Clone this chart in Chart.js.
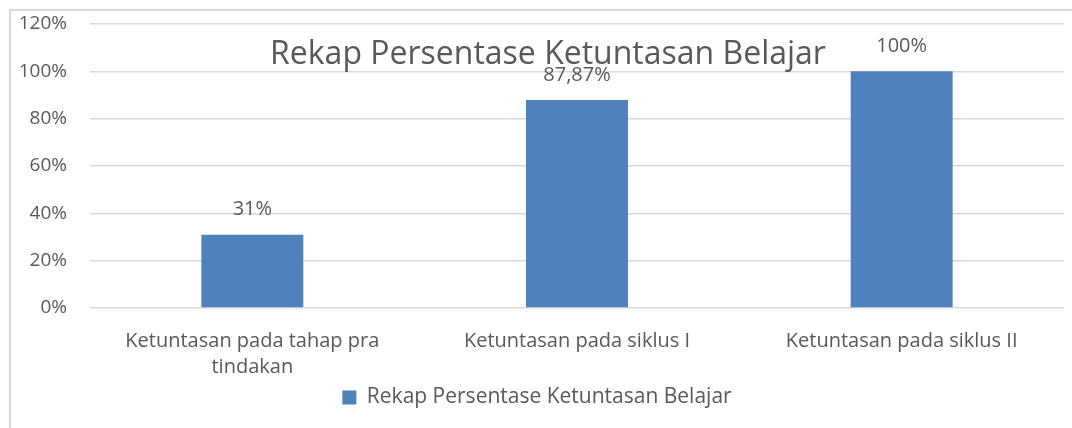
<!DOCTYPE html>
<html>
<head>
<meta charset="utf-8">
<script src="https://cdn.jsdelivr.net/npm/chart.js@4"></script>
<style>
  html, body { margin: 0; padding: 0; background: #fff; overflow: hidden; }
  #frame { position: absolute; left: 9px; top: 9px; width: 1080px; height: 430px; border: 2px solid #d9d9d9; box-sizing: border-box; }
  #wrap { position: absolute; left: 0; top: 0; width: 1072px; height: 428px; }
</style>
</head>
<body>
<div id="frame"></div>
<div id="wrap"><canvas id="chart"></canvas></div>
<script>
const categories = [['Ketuntasan pada tahap pra', 'tindakan'], 'Ketuntasan pada siklus I', 'Ketuntasan pada siklus II'];
const values = [31, 87.87, 100];
const valueLabels = ['31%', '87,87%', '100%'];
const seriesName = 'Rekap Persentase Ketuntasan Belajar';
const chartTitle = 'Rekap Persentase Ketuntasan Belajar';

const fontFamily = '"Open Sans", sans-serif';
const textColor = '#595959';

// rótulos de valor acima das barras + título sobreposto
const overlayPlugin = {
  id: 'overlay',
  afterDatasetsDraw(chart) {
    const ctx = chart.ctx;
    const meta = chart.getDatasetMeta(0);
    ctx.save();
    ctx.fillStyle = textColor;
    ctx.font = '20px ' + fontFamily;
    ctx.textAlign = 'center';
    ctx.textBaseline = 'middle';
    meta.data.forEach(function(bar, i) {
      ctx.fillText(valueLabels[i], bar.x, bar.y - 25);
    });
    const area = chart.chartArea;
    ctx.font = '32px ' + fontFamily;
    ctx.fillText(chartTitle, 548, area.top + 31);
    ctx.restore();
  }
};

const ctx = document.getElementById('chart').getContext('2d');
new Chart(ctx, {
  type: 'bar',
  data: {
    labels: categories,
    datasets: [{
      label: seriesName,
      data: values,
      backgroundColor: '#4F81BD',
      borderWidth: 0,
      barPercentage: 0.314,
      categoryPercentage: 1
    }]
  },
  options: {
    responsive: true,
    maintainAspectRatio: false,
    animation: false,
    layout: { padding: { left: 10, right: 8, top: 24, bottom: 10 } },
    scales: {
      x: {
        afterFit: function(scale) { scale.height = scale.height - 5; },
        grid: { display: false },
        border: { display: false },
        ticks: { color: textColor, font: { family: fontFamily, size: 20, lineHeight: 1.3 }, maxRotation: 0, padding: 12 }
      },
      y: {
        min: 0,
        max: 120,
        afterFit: function(scale) { scale.width = 80; },
        grid: { color: '#d9d9d9', lineWidth: 1.5, drawTicks: true, tickLength: 20, tickColor: 'rgba(0,0,0,0)' },
        border: { display: false },
        ticks: {
          stepSize: 20,
          padding: 3,
          color: textColor,
          font: { family: fontFamily, size: 19 },
          callback: function(v) { return v + '%'; }
        }
      }
    },
    plugins: {
      title: { display: false },
      tooltip: { enabled: false },
      legend: {
        position: 'bottom',
        labels: {
          color: textColor,
          font: { family: fontFamily, size: 21 },
          boxWidth: 14,
          boxHeight: 14,
          padding: 0
        }
      }
    }
  },
  plugins: [overlayPlugin]
});
</script>
</body>
</html>
